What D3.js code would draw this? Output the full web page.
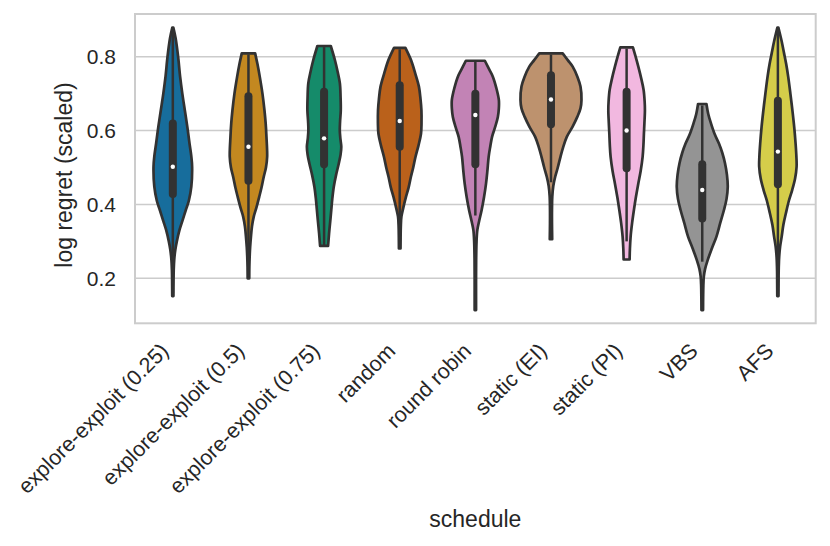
<!DOCTYPE html>
<html>
<head>
<meta charset="utf-8">
<script src="https://cdn.jsdelivr.net/npm/d3@7"></script>
<style>
  body{margin:0;background:#fff;}
  text{font-family:"Liberation Sans",Arial,sans-serif;fill:#262626;}
</style>
</head>
<body>
<div class="violin"></div>
<script>
// categories and tick labels
var schedules=["explore-exploit (0.25)","explore-exploit (0.5)","explore-exploit (0.75)","random","round robin","static (EI)","static (PI)","VBS","AFS"];
var yTicks=[0.2,0.4,0.6,0.8];
var palette=["#0173b2","#de8f05","#029e73","#d55e00","#cc78bc","#ca9161","#fbafe4","#949494","#ece133"];

// density profiles: [value, density]
var dens_ee025=[[0.879,0.05],[0.85,0.28],[0.80,0.53],[0.746,0.73],[0.70,0.95],[0.655,1.2],[0.61,1.45],[0.565,1.67],[0.53,1.85],[0.502,1.93],[0.448,1.85],[0.41,1.6],[0.385,1.3],[0.355,0.95],[0.331,0.67],[0.30,0.4],[0.277,0.25],[0.25,0.14],[0.222,0.09],[0.19,0.07],[0.152,0.06]];
var dens_ee05=[[0.809,0.67],[0.78,0.9],[0.746,1.13],[0.70,1.4],[0.655,1.6],[0.62,1.72],[0.583,1.8],[0.529,1.87],[0.50,1.75],[0.475,1.53],[0.445,1.3],[0.421,1.08],[0.39,0.78],[0.367,0.53],[0.34,0.35],[0.313,0.25],[0.285,0.17],[0.258,0.12],[0.23,0.09],[0.2,0.08]];
var dens_ee075=[[0.829,0.67],[0.791,1.08],[0.76,1.35],[0.728,1.58],[0.69,1.65],[0.655,1.67],[0.625,1.6],[0.601,1.57],[0.578,1.63],[0.556,1.72],[0.535,1.65],[0.511,1.47],[0.48,1.2],[0.448,0.97],[0.415,0.82],[0.385,0.72],[0.35,0.6],[0.322,0.5],[0.288,0.4]];
var dens_random=[[0.824,0.57],[0.791,1.13],[0.755,1.55],[0.719,1.92],[0.685,2.08],[0.655,2.17],[0.62,2.18],[0.592,2.13],[0.56,1.88],[0.529,1.58],[0.50,1.35],[0.475,1.12],[0.445,0.88],[0.421,0.63],[0.39,0.35],[0.367,0.17],[0.34,0.11],[0.31,0.09],[0.281,0.08]];
var dens_rr=[[0.789,0.95],[0.765,1.4],[0.746,1.75],[0.715,2.1],[0.683,2.35],[0.66,2.35],[0.637,2.25],[0.61,1.98],[0.583,1.67],[0.555,1.48],[0.529,1.33],[0.49,1.2],[0.457,1.07],[0.42,0.87],[0.385,0.63],[0.355,0.38],[0.331,0.2],[0.30,0.12],[0.25,0.08],[0.2,0.07],[0.15,0.07],[0.114,0.07]];
var dens_ei=[[0.809,1.17],[0.79,1.7],[0.773,2.17],[0.745,2.65],[0.719,2.95],[0.683,3.05],[0.66,2.95],[0.637,2.63],[0.61,2.15],[0.583,1.58],[0.555,1.22],[0.529,0.95],[0.50,0.68],[0.475,0.42],[0.45,0.23],[0.421,0.13],[0.385,0.1],[0.349,0.1],[0.306,0.12]];
var dens_pi=[[0.825,0.63],[0.80,0.9],[0.773,1.17],[0.74,1.47],[0.710,1.7],[0.68,1.8],[0.655,1.83],[0.62,1.78],[0.592,1.73],[0.56,1.68],[0.529,1.6],[0.49,1.4],[0.457,1.17],[0.42,0.93],[0.385,0.73],[0.35,0.55],[0.313,0.4],[0.28,0.33],[0.251,0.3]];
var dens_vbs=[[0.672,0.42],[0.645,0.6],[0.619,0.88],[0.59,1.25],[0.565,1.67],[0.54,2.0],[0.511,2.28],[0.48,2.47],[0.448,2.55],[0.415,2.43],[0.385,2.17],[0.35,1.8],[0.313,1.42],[0.28,0.95],[0.250,0.55],[0.225,0.28],[0.205,0.16],[0.18,0.11],[0.15,0.09],[0.114,0.08]];
var dens_afs=[[0.879,0.05],[0.845,0.35],[0.809,0.62],[0.78,0.83],[0.746,1.03],[0.70,1.25],[0.655,1.45],[0.61,1.63],[0.565,1.77],[0.53,1.85],[0.502,1.87],[0.47,1.72],[0.439,1.43],[0.41,1.1],[0.376,0.8],[0.345,0.55],[0.313,0.38],[0.285,0.22],[0.258,0.13],[0.22,0.08],[0.185,0.07],[0.152,0.06]];

// box stats: [whisker low, q1, median, q3, whisker high]
var boxStats=[
  [0.16,0.428,0.502,0.619,0.875],
  [0.21,0.464,0.556,0.693,0.806],
  [0.29,0.509,0.579,0.705,0.826],
  [0.31,0.556,0.626,0.723,0.82],
  [0.37,0.509,0.642,0.700,0.786],
  [0.46,0.617,0.684,0.750,0.806],
  [0.30,0.498,0.600,0.705,0.822],
  [0.245,0.362,0.439,0.509,0.668],
  [0.235,0.455,0.543,0.681,0.875]
];
var densities=[dens_ee025,dens_ee05,dens_ee075,dens_random,dens_rr,dens_ei,dens_pi,dens_vbs,dens_afs];

(function(){
var width=830,height=546;
var mLeft=135,mRight=815.7,mTop=14,mBottom=323.3;
var svg=d3.select('div.violin')
    .append('svg')
    .attr('width',width)
    .attr('height',height);

var xScale=d3.scaleBand()
    .domain(schedules)
    .range([mLeft,mRight])
    .padding(0);
var yScale=d3.scaleLinear()
    .domain([0.0782,0.9156])
    .range([mBottom,mTop]);
var wScale=d3.scaleLinear()
    .domain([0,1])
    .range([0,10]);

// grid
svg.append('g')
    .selectAll('line')
    .data(yTicks)
    .enter()
    .append('line')
    .attr('x1',mLeft).attr('x2',mRight)
    .attr('y1',d=>yScale(d)).attr('y2',d=>yScale(d))
    .attr('stroke','#cccccc')
    .attr('stroke-width',1.4);

// y axis labels
var yAxis=svg.append('g')
    .attr('transform','translate('+mLeft+',0)')
    .call(d3.axisLeft(yScale).tickValues(yTicks).tickSize(0).tickPadding(19).tickFormat(d3.format('.1f')));
yAxis.select('.domain').remove();
yAxis.selectAll('text').attr('font-size','21px').attr('fill','#262626')
    .style('font-family','"Liberation Sans",Arial,sans-serif');

// x axis labels, rotated
var xAxis=svg.append('g')
    .attr('transform','translate(0,'+mBottom+')')
    .call(d3.axisBottom(xScale).tickSize(0).tickFormat(''));
xAxis.select('.domain').remove();
xAxis.selectAll('.tick')
    .append('text')
    .attr('text-anchor','end')
    .attr('transform','translate(-3,29) rotate(-45)')
    .attr('font-size','21.5px')
    .attr('fill','#262626')
    .text(d=>d);

// violins
var area=d3.area()
    .curve(d3.curveCatmullRom)
    .y(d=>yScale(d[0]));

schedules.forEach(function(s,i){
  var cx=xScale(s)+xScale.bandwidth()/2;
  var c=d3.hsl(palette[i]);
  c.s=c.s*0.75;
  var g=svg.append('g');
  g.append('path')
    .datum(densities[i])
    .attr('d',area.x0(d=>cx-wScale(d[1])).x1(d=>cx+wScale(d[1])))
    .attr('fill',c.formatHex())
    .attr('stroke','#323232')
    .attr('stroke-width',2.7)
    .attr('stroke-linejoin','round');
  var b=boxStats[i];
  g.append('line')
    .attr('x1',cx).attr('x2',cx)
    .attr('y1',yScale(b[0])).attr('y2',yScale(b[4]))
    .attr('stroke','#323232')
    .attr('stroke-width',2.5);
  g.append('line')
    .attr('x1',cx).attr('x2',cx)
    .attr('y1',yScale(b[1])).attr('y2',yScale(b[3]))
    .attr('stroke','#323232')
    .attr('stroke-width',8)
    .attr('stroke-linecap','round');
  g.append('circle')
    .attr('cx',cx).attr('cy',yScale(b[2]))
    .attr('r',2.2)
    .attr('fill','#ffffff');
});

// frame
svg.append('rect')
    .attr('x',mLeft).attr('y',mTop)
    .attr('width',mRight-mLeft).attr('height',mBottom-mTop)
    .attr('fill','none')
    .attr('stroke','#cccccc')
    .attr('stroke-width',2);

svg.append('text')
    .attr('x',(mLeft+mRight)/2)
    .attr('y',527)
    .attr('text-anchor','middle')
    .attr('font-size','23px')
    .text('schedule');

svg.append('text')
    .attr('transform','translate(72,175) rotate(-90)')
    .attr('text-anchor','middle')
    .attr('font-size','23px')
    .text('log regret (scaled)');
})();
</script>
</body>
</html>
